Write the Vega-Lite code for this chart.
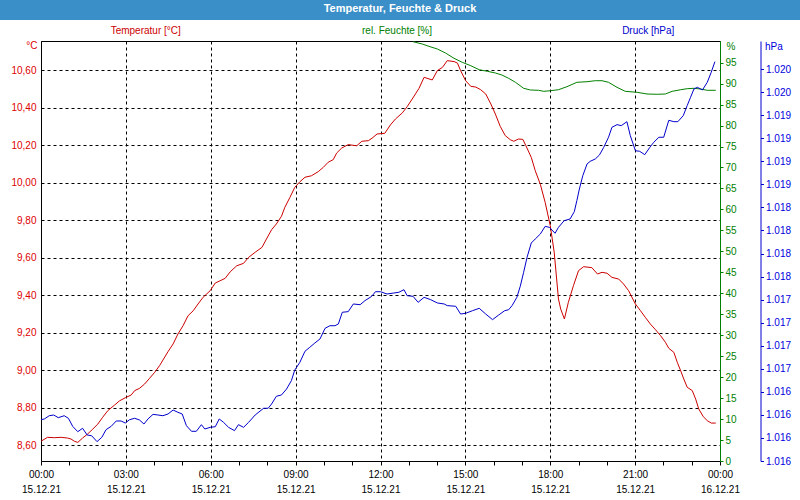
{
  "$schema": "https://vega.github.io/schema/vega-lite/v6.json",
  "padding": 0,
  "background": "white",
  "config": {
    "font": "Liberation Sans",
    "view": {"stroke": null},
    "axis": {"labelFont": "Liberation Sans", "labelFontSize": 10, "titleFont": "Liberation Sans", "titleFontSize": 10, "titleFontWeight": "normal"}
  },
  "datasets": {
    "temp": [
      {"h":0.0,"T":8.62},{"h":0.23,"T":8.641},{"h":0.47,"T":8.639},{"h":0.71,"T":8.641},{"h":0.94,"T":8.637},{"h":1.06,"T":8.632},{"h":1.18,"T":8.62},{"h":1.3,"T":8.614},{"h":1.47,"T":8.637},{"h":1.65,"T":8.659},{"h":1.83,"T":8.685},{"h":2.01,"T":8.712},{"h":2.18,"T":8.748},{"h":2.36,"T":8.783},{"h":2.6,"T":8.813},{"h":2.78,"T":8.836},{"h":2.98,"T":8.852},{"h":3.19,"T":8.867},{"h":3.31,"T":8.89},{"h":3.48,"T":8.902},{"h":3.66,"T":8.925},{"h":3.84,"T":8.956},{"h":4.02,"T":8.988},{"h":4.19,"T":9.023},{"h":4.31,"T":9.053},{"h":4.49,"T":9.098},{"h":4.67,"T":9.139},{"h":4.84,"T":9.192},{"h":5.02,"T":9.236},{"h":5.2,"T":9.29},{"h":5.38,"T":9.316},{"h":5.55,"T":9.352},{"h":5.73,"T":9.388},{"h":5.98,"T":9.423},{"h":6.16,"T":9.464},{"h":6.33,"T":9.476},{"h":6.51,"T":9.489},{"h":6.69,"T":9.524},{"h":6.92,"T":9.556},{"h":7.16,"T":9.569},{"h":7.34,"T":9.601},{"h":7.57,"T":9.628},{"h":7.81,"T":9.654},{"h":7.97,"T":9.699},{"h":8.15,"T":9.748},{"h":8.32,"T":9.779},{"h":8.5,"T":9.82},{"h":8.62,"T":9.868},{"h":8.8,"T":9.921},{"h":8.97,"T":9.974},{"h":9.15,"T":10.004},{"h":9.33,"T":10.028},{"h":9.56,"T":10.036},{"h":9.8,"T":10.058},{"h":9.98,"T":10.081},{"h":10.15,"T":10.108},{"h":10.33,"T":10.122},{"h":10.45,"T":10.157},{"h":10.63,"T":10.184},{"h":10.86,"T":10.202},{"h":11.16,"T":10.196},{"h":11.34,"T":10.22},{"h":11.57,"T":10.223},{"h":11.7,"T":10.236},{"h":11.88,"T":10.259},{"h":12.15,"T":10.262},{"h":12.35,"T":10.307},{"h":12.53,"T":10.339},{"h":12.77,"T":10.371},{"h":12.94,"T":10.404},{"h":13.12,"T":10.445},{"h":13.36,"T":10.502},{"h":13.54,"T":10.561},{"h":13.83,"T":10.547},{"h":14.01,"T":10.597},{"h":14.19,"T":10.614},{"h":14.36,"T":10.65},{"h":14.6,"T":10.645},{"h":14.72,"T":10.637},{"h":14.83,"T":10.597},{"h":15.01,"T":10.543},{"h":15.19,"T":10.513},{"h":15.37,"T":10.509},{"h":15.54,"T":10.495},{"h":15.72,"T":10.472},{"h":15.9,"T":10.419},{"h":16.06,"T":10.365},{"h":16.23,"T":10.3},{"h":16.41,"T":10.25},{"h":16.59,"T":10.228},{"h":16.71,"T":10.22},{"h":16.88,"T":10.232},{"h":17.03,"T":10.23},{"h":17.14,"T":10.196},{"h":17.33,"T":10.134},{"h":17.47,"T":10.063},{"h":17.65,"T":9.99},{"h":17.82,"T":9.894},{"h":18.0,"T":9.77},{"h":18.14,"T":9.628},{"h":18.29,"T":9.379},{"h":18.37,"T":9.325},{"h":18.5,"T":9.272},{"h":18.64,"T":9.361},{"h":18.82,"T":9.45},{"h":19.0,"T":9.53},{"h":19.18,"T":9.551},{"h":19.47,"T":9.546},{"h":19.67,"T":9.512},{"h":19.83,"T":9.521},{"h":20.01,"T":9.516},{"h":20.18,"T":9.494},{"h":20.42,"T":9.485},{"h":20.59,"T":9.459},{"h":20.77,"T":9.423},{"h":21.01,"T":9.352},{"h":21.19,"T":9.316},{"h":21.36,"T":9.281},{"h":21.54,"T":9.245},{"h":21.72,"T":9.215},{"h":21.9,"T":9.183},{"h":22.07,"T":9.148},{"h":22.19,"T":9.116},{"h":22.37,"T":9.094},{"h":22.49,"T":9.041},{"h":22.61,"T":8.996},{"h":22.72,"T":8.952},{"h":22.84,"T":8.908},{"h":23.02,"T":8.89},{"h":23.14,"T":8.845},{"h":23.25,"T":8.792},{"h":23.41,"T":8.751},{"h":23.55,"T":8.73},{"h":23.69,"T":8.717},{"h":23.85,"T":8.717}
    ],
    "hum": [
      {"h":13.15,"H":100},{"h":13.48,"H":99.45},{"h":13.71,"H":98.9},{"h":14.01,"H":98.26},{"h":14.3,"H":97.3},{"h":14.6,"H":96.04},{"h":14.89,"H":95.09},{"h":15.19,"H":94.28},{"h":15.49,"H":93.32},{"h":15.78,"H":92.94},{"h":16.06,"H":92.54},{"h":16.29,"H":92.06},{"h":16.53,"H":91.27},{"h":16.77,"H":90.32},{"h":17.06,"H":88.89},{"h":17.3,"H":88.48},{"h":17.59,"H":88.41},{"h":17.77,"H":88.17},{"h":18.0,"H":88.31},{"h":18.29,"H":88.55},{"h":18.59,"H":89.27},{"h":18.94,"H":90.32},{"h":19.3,"H":90.46},{"h":19.59,"H":90.7},{"h":19.83,"H":90.7},{"h":20.06,"H":90.32},{"h":20.36,"H":89.12},{"h":20.65,"H":88.17},{"h":21.07,"H":87.93},{"h":21.42,"H":87.53},{"h":21.78,"H":87.46},{"h":22.07,"H":87.53},{"h":22.31,"H":88.17},{"h":22.61,"H":88.55},{"h":22.84,"H":88.79},{"h":23.08,"H":88.89},{"h":23.31,"H":88.72},{"h":23.55,"H":88.41},{"h":23.85,"H":88.41}
    ],
    "press": [
      {"h":0.0,"P":1016.048},{"h":0.12,"P":1016.056},{"h":0.29,"P":1016.091},{"h":0.45,"P":1016.099},{"h":0.61,"P":1016.07},{"h":0.82,"P":1016.091},{"h":0.97,"P":1016.063},{"h":1.12,"P":1015.976},{"h":1.3,"P":1015.918},{"h":1.47,"P":1015.955},{"h":1.63,"P":1015.882},{"h":1.79,"P":1015.874},{"h":1.98,"P":1015.81},{"h":2.15,"P":1015.857},{"h":2.3,"P":1015.94},{"h":2.48,"P":1015.976},{"h":2.66,"P":1016.034},{"h":2.83,"P":1016.034},{"h":2.98,"P":1016.012},{"h":3.13,"P":1016.048},{"h":3.31,"P":1016.063},{"h":3.48,"P":1016.045},{"h":3.64,"P":1016.001},{"h":3.78,"P":1016.056},{"h":3.96,"P":1016.106},{"h":4.13,"P":1016.099},{"h":4.31,"P":1016.091},{"h":4.49,"P":1016.11},{"h":4.67,"P":1016.153},{"h":4.84,"P":1016.128},{"h":4.99,"P":1016.11},{"h":5.14,"P":1015.983},{"h":5.32,"P":1015.922},{"h":5.49,"P":1015.922},{"h":5.67,"P":1015.994},{"h":5.79,"P":1015.947},{"h":5.98,"P":1015.965},{"h":6.16,"P":1015.972},{"h":6.3,"P":1016.056},{"h":6.45,"P":1016.02},{"h":6.63,"P":1015.965},{"h":6.84,"P":1015.929},{"h":6.98,"P":1015.994},{"h":7.16,"P":1015.965},{"h":7.34,"P":1016.02},{"h":7.57,"P":1016.099},{"h":7.87,"P":1016.172},{"h":8.03,"P":1016.172},{"h":8.15,"P":1016.218},{"h":8.32,"P":1016.302},{"h":8.5,"P":1016.316},{"h":8.68,"P":1016.381},{"h":8.85,"P":1016.471},{"h":8.97,"P":1016.587},{"h":9.15,"P":1016.67},{"h":9.33,"P":1016.79},{"h":9.5,"P":1016.833},{"h":9.68,"P":1016.88},{"h":9.86,"P":1016.923},{"h":10.04,"P":1017.039},{"h":10.21,"P":1017.067},{"h":10.39,"P":1017.067},{"h":10.51,"P":1017.086},{"h":10.65,"P":1017.213},{"h":10.86,"P":1017.22},{"h":11.04,"P":1017.303},{"h":11.28,"P":1017.295},{"h":11.45,"P":1017.339},{"h":11.69,"P":1017.386},{"h":11.82,"P":1017.436},{"h":12.0,"P":1017.436},{"h":12.23,"P":1017.411},{"h":12.47,"P":1017.422},{"h":12.65,"P":1017.43},{"h":12.83,"P":1017.458},{"h":12.94,"P":1017.393},{"h":13.15,"P":1017.386},{"h":13.33,"P":1017.321},{"h":13.54,"P":1017.375},{"h":13.77,"P":1017.35},{"h":14.01,"P":1017.314},{"h":14.25,"P":1017.303},{"h":14.36,"P":1017.285},{"h":14.66,"P":1017.278},{"h":14.83,"P":1017.194},{"h":15.01,"P":1017.202},{"h":15.25,"P":1017.23},{"h":15.49,"P":1017.256},{"h":15.72,"P":1017.194},{"h":15.96,"P":1017.133},{"h":16.18,"P":1017.184},{"h":16.39,"P":1017.23},{"h":16.53,"P":1017.241},{"h":16.65,"P":1017.285},{"h":16.82,"P":1017.375},{"h":16.94,"P":1017.495},{"h":17.06,"P":1017.647},{"h":17.18,"P":1017.809},{"h":17.33,"P":1017.964},{"h":17.47,"P":1018.008},{"h":17.65,"P":1018.062},{"h":17.82,"P":1018.145},{"h":17.97,"P":1018.134},{"h":18.17,"P":1018.07},{"h":18.29,"P":1018.134},{"h":18.49,"P":1018.206},{"h":18.7,"P":1018.225},{"h":18.85,"P":1018.304},{"h":18.94,"P":1018.423},{"h":19.03,"P":1018.55},{"h":19.15,"P":1018.694},{"h":19.3,"P":1018.821},{"h":19.41,"P":1018.85},{"h":19.59,"P":1018.875},{"h":19.74,"P":1018.919},{"h":19.89,"P":1019.002},{"h":20.06,"P":1019.111},{"h":20.18,"P":1019.219},{"h":20.36,"P":1019.248},{"h":20.51,"P":1019.237},{"h":20.71,"P":1019.28},{"h":20.83,"P":1019.128},{"h":21.01,"P":1018.965},{"h":21.16,"P":1018.959},{"h":21.34,"P":1018.922},{"h":21.52,"P":1019.002},{"h":21.66,"P":1019.057},{"h":21.84,"P":1019.111},{"h":22.01,"P":1019.111},{"h":22.19,"P":1019.295},{"h":22.37,"P":1019.28},{"h":22.51,"P":1019.28},{"h":22.7,"P":1019.345},{"h":22.84,"P":1019.454},{"h":22.96,"P":1019.545},{"h":23.08,"P":1019.635},{"h":23.2,"P":1019.653},{"h":23.38,"P":1019.624},{"h":23.55,"P":1019.707},{"h":23.69,"P":1019.816},{"h":23.82,"P":1019.931}
    ],
    "titles": [{"title": "Temperatur, Feuchte & Druck"}],
    "headers": [
      {"series": "Temperatur [°C]"},
      {"series": "rel. Feuchte [%]"},
      {"series": "Druck [hPa]"}
    ]
  },
  "vconcat": [
    {
      "width": 800,
      "height": 20,
      "view": {"fill": "#3b8fc8", "stroke": null},
      "data": {"name": "titles"},
      "mark": {"type": "text", "color": "white", "fontWeight": "bold", "fontSize": 11, "font": "Liberation Sans", "dy": -1},
      "encoding": {"text": {"field": "title"}}
    },
    {
      "width": 794,
      "height": 20,
      "view": {"stroke": null},
      "data": {"name": "headers"},
      "mark": {"type": "text", "fontSize": 10, "font": "Liberation Sans", "dy": 1},
      "encoding": {
        "x": {"field": "series", "type": "nominal", "sort": null, "scale": {"type": "point", "padding": 0.58}, "axis": null},
        "text": {"field": "series"},
        "color": {"field": "series", "type": "nominal", "scale": {"domain": ["Temperatur [°C]", "rel. Feuchte [%]", "Druck [hPa]"], "range": ["#cc0000", "#008000", "#0000cc"]}, "legend": null}
      }
    },
    {
      "width": 720,
      "height": 420,
      "view": {"stroke": null},
      "layer": [
        {
          "data": {"name": "temp"},
          "mark": {"type": "line", "color": "#cc0000", "strokeWidth": 1},
          "encoding": {
            "x": {
              "field": "h", "type": "quantitative",
              "scale": {"domain": [0, 24], "nice": false, "zero": false, "range": [41, 720]},
              "axis": {
                "title": null,
                "values": [0,1,2,3,4,5,6,7,8,9,10,11,12,13,14,15,16,17,18,19,20,21,22,23,24],
                "labelExpr": "datum.value % 3 !== 0 ? '' : [format(datum.value % 24, '02d') + ':00', datum.value === 24 ? '16.12.21' : '15.12.21']",
                "labelColor": "black", "labelLineHeight": 15, "labelPadding": 4, "labelFlush": false, "labelOverlap": false,
                "tickSize": 4, "tickColor": "black", "domainColor": "black",
                "grid": true, "gridColor": "black", "gridDash": [3, 3],
                "gridOpacity": {"condition": {"test": "datum.value % 3 === 0", "value": 1}, "value": 0}
              }
            },
            "y": {
              "field": "T", "type": "quantitative",
              "scale": {"domain": [8.5147, 10.7547], "nice": false, "zero": false},
              "axis": {
                "orient": "left", "offset": -41, "title": "°C", "titleAngle": 0, "titleAlign": "right", "titleBaseline": "middle", "titleX": -4, "titleY": 4, "titleColor": "#dd0000",
                "values": [8.6, 8.8, 9.0, 9.2, 9.4, 9.6, 9.8, 10.0, 10.2, 10.4, 10.6],
                "labelExpr": "replace(format(datum.value, '.2f'), '.', ',')",
                "labelColor": "#dd0000", "ticks": false, "labelPadding": 5, "domainColor": "black",
                "grid": true, "gridColor": "black", "gridDash": [3, 3]
              }
            }
          }
        },
        {
          "data": {"name": "hum"},
          "mark": {"type": "line", "color": "#008000", "strokeWidth": 1, "clip": true},
          "encoding": {
            "x": {
              "field": "h", "type": "quantitative",
              "axis": {"orient": "top", "title": null, "labels": false, "ticks": false, "grid": false, "domainColor": "black"}
            },
            "y": {
              "field": "H", "type": "quantitative",
              "scale": {"domain": [0, 100.17], "nice": false, "zero": false},
              "axis": {
                "orient": "right", "title": "%", "titleAngle": 0, "titleAlign": "left", "titleBaseline": "middle", "titleX": 6, "titleY": 5, "titleColor": "#008000",
                "values": [0,5,10,15,20,25,30,35,40,45,50,55,60,65,70,75,80,85,90,95],
                "labelColor": "#008000", "tickColor": "#008000", "domainColor": "#008000", "tickSize": 3, "labelPadding": 2,
                "grid": false
              }
            }
          }
        },
        {
          "data": {"name": "press"},
          "mark": {"type": "line", "color": "#0000cc", "strokeWidth": 1},
          "encoding": {
            "x": {"field": "h", "type": "quantitative", "axis": null},
            "y": {
              "field": "P", "type": "quantitative",
              "scale": {"domain": [1015.6, 1020.155], "nice": false, "zero": false},
              "axis": {
                "orient": "right", "offset": 40.5, "title": "hPa", "titleAngle": 0, "titleAlign": "left", "titleBaseline": "middle", "titleX": 4, "titleY": 5, "titleColor": "#0000dd",
                "values": [1015.6, 1015.85, 1016.1, 1016.35, 1016.6, 1016.85, 1017.1, 1017.35, 1017.6, 1017.85, 1018.1, 1018.35, 1018.6, 1018.85, 1019.1, 1019.35, 1019.6, 1019.85],
                "labelExpr": "replace(format(datum.value, ',.0f'), ',', '.')",
                "labelColor": "#0000dd", "tickColor": "#0000cc", "domainColor": "#0000cc", "tickSize": 3, "labelPadding": 2,
                "grid": false
              }
            }
          }
        }
      ],
      "resolve": {"scale": {"y": "independent"}, "axis": {"x": "independent", "y": "independent"}}
    }
  ],
  "spacing": 0
}
